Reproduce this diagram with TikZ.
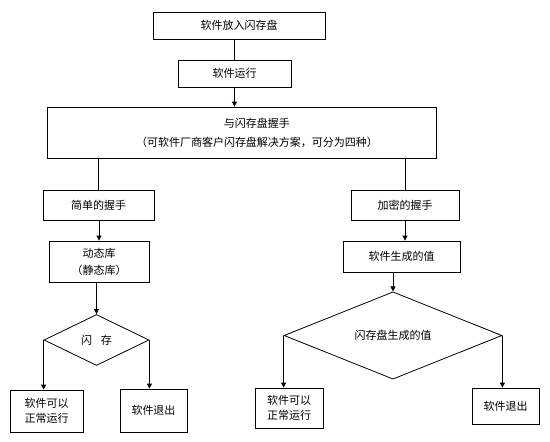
\documentclass[tikz,border=0pt]{standalone}
\usepackage{fontspec}
\setmainfont{Noto Sans CJK SC}
\usetikzlibrary{shapes.geometric,arrows.meta}

\begin{document}
\begin{tikzpicture}[x=1pt,y=-1pt,line width=0.8pt,
  box/.style={draw,rectangle,inner sep=0pt,align=center,
              font=\fontsize{11}{15}\selectfont},
  choice/.style={draw,diamond,inner sep=0pt,align=center,
                 font=\fontsize{11}{15}\selectfont},
  arr/.style={-{Triangle[length=5pt,width=5pt]}}]
  \useasboundingbox (0,0) rectangle (550,442);
  % common start
  \node[box,minimum width=172pt,minimum height=27pt] (put) at (239,25.5) {软件放入闪存盘};
  \node[box,minimum width=113pt,minimum height=27pt] (run) at (234.5,73.5) {软件运行};
  \node[box,minimum width=389pt,minimum height=51pt] (main) at (241.5,132.5) {};
  \node[align=center,inner sep=0pt,font=\fontsize{11}{19}\selectfont] (mainlabel)
    at (257,132.5) {与闪存盘握手\\（可软件厂商客户闪存盘解决方案，可分为四种）};
  \draw (run.north |- put.south) -- (run.north);
  \draw[arr] (run.south) -- (run.south |- main.north);

  % simple handshake
  \node[box,minimum width=111pt,minimum height=30pt] (simple) at (98.5,205) {简单的握手};
  \node[box,minimum width=100pt,minimum height=41pt,
        font=\fontsize{11}{17}\selectfont] (lib) at (99,261.5) {动态库\\（静态库）};
  \node[choice,minimum width=105pt,minimum height=51pt] (flash) at (96.5,340) {闪\hspace{0.8em}存};
  \node[box,minimum width=73pt,minimum height=42pt] (ok1) at (46.5,411) {软件可以\\正常运行};
  \node[box,minimum width=67pt,minimum height=43pt] (quit1) at (153.5,410.5) {软件退出};
  \draw (simple.north |- main.south) -- (simple.north);
  \draw[arr] (lib.north |- simple.south) -- (lib.north);
  \draw[arr] (flash.north |- lib.south) -- (flash.north);
  \draw[arr] (flash.west) -- (flash.west |- ok1.north);
  \draw[arr] (flash.east) -- (flash.east |- quit1.north);

  % encrypted handshake
  \node[box,minimum width=108pt,minimum height=30pt] (crypt) at (405,205) {加密的握手};
  \node[box,minimum width=117pt,minimum height=31pt] (val) at (401.5,256.5) {软件生成的值};
  \node[choice,minimum width=218pt,minimum height=65pt] (check) at (393,335.5) {闪存盘生成的值};
  \node[box,minimum width=68pt,minimum height=40pt] (ok2) at (289,408) {软件可以\\正常运行};
  \node[box,minimum width=67pt,minimum height=36pt] (quit2) at (505.5,406) {软件退出};
  \draw (crypt.north |- main.south) -- (crypt.north);
  \draw[arr] (crypt.south) -- (crypt.south |- val.north);
  \draw[arr] (check.north |- val.south) -- (check.north);
  \draw[arr] (check.west) -- (check.west |- ok2.north);
  \draw[arr] (check.east) -- (check.east |- quit2.north);
\end{tikzpicture}
\end{document}
